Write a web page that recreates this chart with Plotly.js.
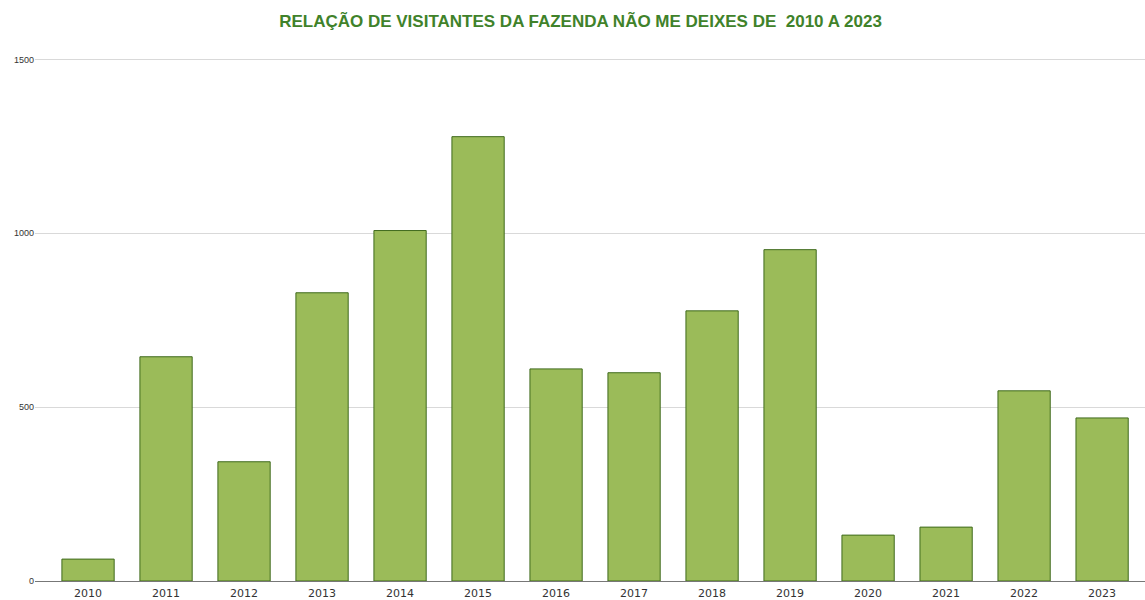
<!DOCTYPE html>
<html><head><meta charset="utf-8">
<script src="https://cdn.plot.ly/plotly-3.0.1.min.js"></script>
<style>html,body{margin:0;padding:0;background:#fff}</style>
</head><body><div id="chart" style="width:1145px;height:600px"></div>
<script>
const years = ['2010','2011','2012','2013','2014','2015','2016','2017','2018','2019','2020','2021','2022','2023'];
const visitors = [63, 645, 343, 829, 1008, 1278, 610, 599, 777, 953, 132, 155, 547, 469];
const yTicks = [0, 500, 1000, 1500];

Plotly.newPlot('chart', [{
  type: 'bar', x: years, y: visitors,
  width: 0.67,
  marker: {color: '#9bbb59', line: {color: '#3f6a1c', width: 1}},
  hoverinfo: 'x+y'
}], {
  width: 1145, height: 600,
  margin: {l: 35, r: 0, t: 56, b: 19},
  paper_bgcolor: '#fff', plot_bgcolor: '#fff',
  title: {text: 'RELAÇÃO DE VISITANTES DA FAZENDA NÃO ME DEIXES DE  2010 A 2023',
          font: {family: 'Liberation Sans, Arial', size: 17, color: '#40822a', weight: 'bold'},
          x: 0.507, xanchor: 'center', y: 0.965, yanchor: 'middle'},
  xaxis: {type: 'category', range: [-0.68, 13.55], showgrid: false, ticks: '',
          tickfont: {family: 'DejaVu Sans, Liberation Sans', size: 11, color: '#333'},
          showline: false, zeroline: false, ticklabelstandoff: 4},
  yaxis: {range: [0, 1510], tickvals: yTicks, ticktext: yTicks.map(String),
          showgrid: true, gridcolor: '#d9d9d9', gridwidth: 1,
          zeroline: true, zerolinecolor: '#777', zerolinewidth: 1,
          tickfont: {family: 'Liberation Sans, Arial', size: 9, color: '#333'},
          ticks: '', showline: false},
  bargap: 0.33, showlegend: false
}, {displayModeBar: false});
</script></body></html>
